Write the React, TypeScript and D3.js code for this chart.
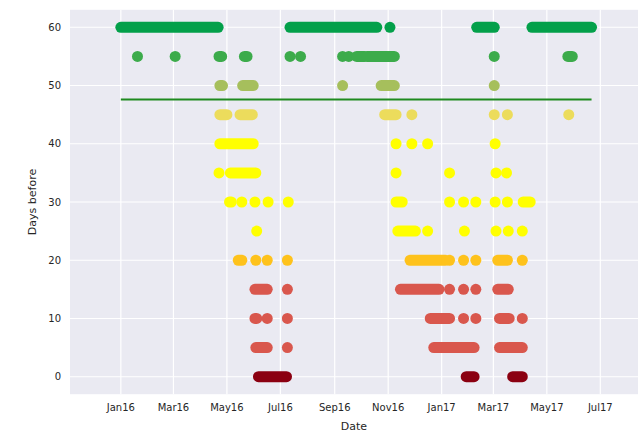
import React from 'react';
import * as d3 from 'd3';

// levels of "days before" and the colour used for each
const levels = [60, 55, 50, 45, 40, 35, 30, 25, 20, 15, 10, 5, 0];
const levelColors = [
  '#03a04a', '#3cab4b', '#a6bf5c', '#ecdc5c', '#ffff00', '#ffff00', '#ffff00',
  '#ffff00', '#fec21c', '#d9574d', '#d9574d', '#d9574d', '#8b0011',
];

// observation dates per level, [first, last] of each dense run (same date = single dot)
const d60 = [['2016-01-01', '2016-04-21'], ['2016-07-12', '2016-10-19'], ['2016-11-03', '2016-11-03'],
  ['2017-02-10', '2017-03-02'], ['2017-04-14', '2017-06-21']];
const d55 = [['2016-01-20', '2016-01-20'], ['2016-03-03', '2016-03-03'], ['2016-04-22', '2016-04-25'],
  ['2016-05-21', '2016-05-24'], ['2016-07-12', '2016-07-12'], ['2016-07-24', '2016-07-24'],
  ['2016-09-10', '2016-09-10'], ['2016-09-17', '2016-09-17'], ['2016-09-26', '2016-10-05'],
  ['2016-10-08', '2016-11-08'], ['2017-03-02', '2017-03-02'], ['2017-05-25', '2017-05-30']];
const d50 = [['2016-04-23', '2016-04-26'], ['2016-05-19', '2016-05-31'], ['2016-09-10', '2016-09-10'],
  ['2016-10-24', '2016-11-08'], ['2017-03-02', '2017-03-02']];
const d45 = [['2016-04-23', '2016-05-01'], ['2016-05-16', '2016-05-30'], ['2016-10-28', '2016-11-10'],
  ['2016-11-28', '2016-11-28'], ['2017-03-02', '2017-03-02'], ['2017-03-17', '2017-03-17'],
  ['2017-05-26', '2017-05-26']];
const d40 = [['2016-04-23', '2016-05-31'], ['2016-11-10', '2016-11-10'], ['2016-11-28', '2016-11-28'],
  ['2016-12-16', '2016-12-16'], ['2017-03-03', '2017-03-03']];
const d35 = [['2016-04-22', '2016-04-22'], ['2016-05-05', '2016-06-03'], ['2016-11-10', '2016-11-10'],
  ['2017-01-10', '2017-01-10'], ['2017-03-04', '2017-03-04'], ['2017-03-16', '2017-03-16']];
const d30 = [['2016-05-04', '2016-05-06'], ['2016-05-18', '2016-05-18'], ['2016-06-02', '2016-06-02'],
  ['2016-06-17', '2016-06-17'], ['2016-07-10', '2016-07-10'], ['2016-11-10', '2016-11-17'],
  ['2017-01-10', '2017-01-10'], ['2017-01-26', '2017-01-26'], ['2017-02-09', '2017-02-09'],
  ['2017-03-03', '2017-03-03'], ['2017-03-17', '2017-03-17'], ['2017-04-04', '2017-04-12']];
const d25 = [['2016-06-04', '2016-06-04'], ['2016-11-12', '2016-12-02'], ['2016-12-16', '2016-12-16'],
  ['2017-01-27', '2017-01-27'], ['2017-03-04', '2017-03-04'], ['2017-03-18', '2017-03-18'],
  ['2017-04-03', '2017-04-03']];
const d20 = [['2016-05-14', '2016-05-18'], ['2016-06-03', '2016-06-03'], ['2016-06-16', '2016-06-16'],
  ['2016-07-09', '2016-07-09'], ['2016-11-26', '2017-01-05'], ['2017-01-10', '2017-01-10'],
  ['2017-01-26', '2017-01-26'], ['2017-02-09', '2017-02-09'], ['2017-03-06', '2017-03-17'],
  ['2017-04-03', '2017-04-03']];
const d15 = [['2016-06-02', '2016-06-16'], ['2016-07-09', '2016-07-09'], ['2016-11-15', '2016-12-29'],
  ['2017-01-10', '2017-01-10'], ['2017-01-26', '2017-01-26'], ['2017-02-09', '2017-02-09'],
  ['2017-03-06', '2017-03-18']];
const d10 = [['2016-06-02', '2016-06-04'], ['2016-06-16', '2016-06-16'], ['2016-07-09', '2016-07-09'],
  ['2016-12-19', '2017-01-10'], ['2017-01-26', '2017-01-26'], ['2017-02-09', '2017-02-09'],
  ['2017-03-08', '2017-03-19'], ['2017-04-03', '2017-04-03']];
const d5 = [['2016-06-03', '2016-06-16'], ['2016-07-09', '2016-07-09'], ['2016-12-23', '2017-02-07'],
  ['2017-03-08', '2017-04-03']];
const d0 = [['2016-06-06', '2016-07-08'], ['2017-01-29', '2017-02-07'], ['2017-03-23', '2017-04-03']];
const levelDates = [d60, d55, d50, d45, d40, d35, d30, d25, d20, d15, d10, d5, d0];

const meanDays = 47.6;
const xDomain = ['2015-11-04', '2017-08-13'];
const yTicks = [0, 10, 20, 30, 40, 50, 60];
const xTickLabels = ['Jan16', 'Mar16', 'May16', 'Jul16', 'Sep16', 'Nov16', 'Jan17', 'Mar17', 'May17', 'Jul17'];

const W = 640, H = 433;
const m = { left: 70, right: 2, top: 9.8, bottom: 38.8 };
const parse = d3.timeParse('%Y-%m-%d');
const FONT = 'DejaVu Sans, sans-serif';

export default function App() {
  const x = d3.scaleTime()
    .domain(xDomain.map(s => parse(s) as Date))
    .range([m.left, W - m.right]);
  const y = d3.scaleLinear().domain([-3, 63]).range([H - m.bottom, m.top]);
  const xTicks = d3.timeMonth.every(2)!.range(parse('2016-01-01')!, parse('2017-07-02')!);
  const fmt = d3.timeFormat('%b%y');
  const r = 5.5;

  const allDates = levelDates.flat(2).map(s => parse(s) as Date);
  const [dMin, dMax] = d3.extent(allDates) as [Date, Date];

  return (
    <svg width={W} height={H} style={{ position: 'absolute', left: 0, top: 0, background: '#fff' }}>
      <rect x={m.left} y={m.top} width={W - m.left - m.right} height={H - m.top - m.bottom} fill="#eaeaf2" />
      {yTicks.map(t => (
        <line key={'gy' + t} x1={m.left} x2={W - m.right} y1={y(t)} y2={y(t)} stroke="#fff" strokeWidth={1.2} />
      ))}
      {xTicks.map((t, i) => (
        <line key={'gx' + i} x1={x(t)} x2={x(t)} y1={m.top} y2={H - m.bottom} stroke="#fff" strokeWidth={1.2} />
      ))}
      {levelDates.map((spans, li) => spans.map((s, si) => {
        const x0 = x(parse(s[0]) as Date), x1 = x(parse(s[1]) as Date);
        return (
          <rect key={li + '-' + si} x={x0 - r} y={y(levels[li]) - r} width={x1 - x0 + 2 * r} height={2 * r}
            rx={r} ry={r} fill={levelColors[li]} />
        );
      }))}
      <line x1={x(dMin)} x2={x(dMax)} y1={y(meanDays)} y2={y(meanDays)} stroke="#1f8a1f" strokeWidth={2} />
      {yTicks.map(t => (
        <text key={'ty' + t} x={m.left - 9} y={y(t)} dy="0.35em" textAnchor="end" fontFamily={FONT}
          fontSize={10} fill="#262626">{t}</text>
      ))}
      {xTicks.map((t, i) => (
        <text key={'tx' + i} x={x(t)} y={H - m.bottom + 13} dy="0.35em" textAnchor="middle" fontFamily={FONT}
          fontSize={10} fill="#262626">{xTickLabels[i] ?? fmt(t)}</text>
      ))}
      <text x={(m.left + W - m.right) / 2} y={426} dy="0.35em" textAnchor="middle" fontFamily={FONT}
        fontSize={11} fill="#262626">Date</text>
      <text transform={`translate(32,${(m.top + H - m.bottom) / 2}) rotate(-90)`} dy="0.35em" textAnchor="middle"
        fontFamily={FONT} fontSize={11} fill="#262626">Days before</text>
    </svg>
  );
}
